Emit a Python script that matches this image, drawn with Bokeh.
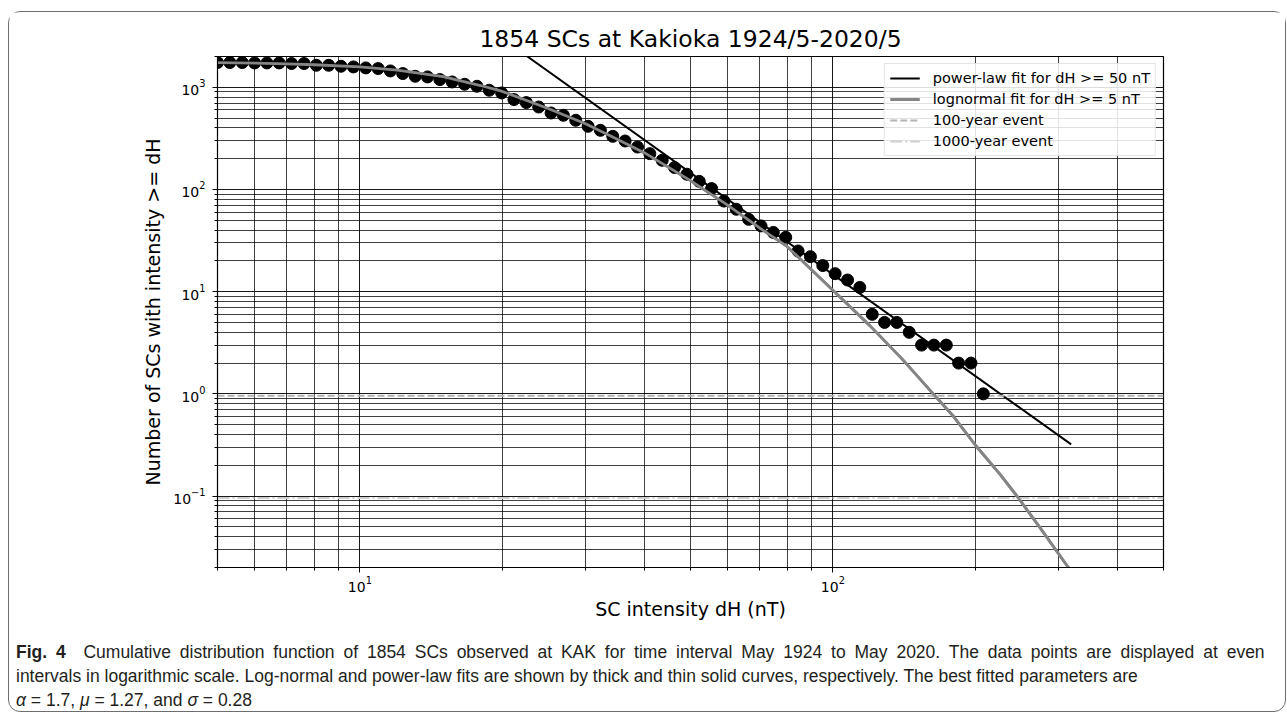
from bokeh.plotting import figure
from bokeh.layouts import column
from bokeh.models import FixedTicker, LogTickFormatter, Legend, LegendItem, Range1d, Div
from bokeh.embed import file_html
from bokeh.resources import INLINE

# ---------------- data ----------------
sc_intensity = [5.00, 5.31, 5.64, 5.99, 6.36, 6.75, 7.17, 7.62, 8.09, 8.59,
                9.12, 9.69, 10.29, 10.93, 11.60, 12.32, 13.09, 13.90, 14.76, 15.67,
                16.65, 17.68, 18.77, 19.94, 21.17, 22.48, 23.88, 25.36, 26.93, 28.60,
                30.37, 32.25, 34.25, 36.37, 38.63, 41.02, 43.56, 46.26, 49.13, 52.18,
                55.41, 58.84, 62.49, 66.36, 70.48, 74.84, 79.48, 84.41, 89.64, 95.20,
                101.1, 107.4, 114.0, 121.1, 128.6, 136.5, 145.0, 154.0, 163.5, 173.7,
                184.4, 195.9, 208.0]
sc_count = [1746, 1746, 1746, 1730, 1730, 1730, 1707, 1707, 1641, 1641,
            1606, 1582, 1546, 1524, 1445, 1361, 1281, 1262, 1189, 1127,
            1070, 1023, 935, 880, 758, 708, 641, 560, 532, 475,
            415, 379, 331, 298, 260, 224, 193, 164, 141, 120,
            102, 77, 64, 51, 44, 38, 34, 25, 22, 18,
            15, 13, 11, 6, 5, 5, 4, 3, 3, 3,
            2, 2, 1]

powerlaw_x = [22.6, 319.0]
powerlaw_y = [2000.0, 0.32]

lognormal_x = [5, 6, 7, 8, 10, 12, 15, 18, 20, 25, 30, 35, 40, 50, 60, 70, 80, 90,
               100, 120, 140, 163, 180, 200, 225, 245, 275, 310, 320]
lognormal_y = [1745, 1725, 1695, 1660, 1580, 1470, 1270, 1040, 910, 620, 440, 310, 228,
               122, 70, 42, 27.7, 16.5, 10.3, 4.6, 2.2, 1.0, 0.6, 0.316, 0.166, 0.1,
               0.048, 0.022, 0.018]

event_100_year = 0.96
event_1000_year = 0.096

x_limits = [5, 500]
y_limits = [0.02, 2000]
x_major_ticks = [10, 100]
x_minor_ticks = [5, 6, 7, 8, 9, 20, 30, 40, 50, 60, 70, 80, 90, 200, 300, 400, 500]
y_major_ticks = [0.1, 1, 10, 100, 1000]
y_minor_ticks = [0.02, 0.03, 0.04, 0.05, 0.06, 0.07, 0.08, 0.09,
                 0.2, 0.3, 0.4, 0.5, 0.6, 0.7, 0.8, 0.9,
                 2, 3, 4, 5, 6, 7, 8, 9,
                 20, 30, 40, 50, 60, 70, 80, 90,
                 200, 300, 400, 500, 600, 700, 800, 900, 2000]

title_text = "1854 SCs at Kakioka 1924/5-2020/5"
x_label = "SC intensity dH (nT)"
y_label = "Number of SCs with intensity >= dH"
legend_labels = ["power-law fit for dH >= 50 nT", "lognormal fit for dH >= 5 nT",
                 "100-year event", "1000-year event"]
caption_bold = "Fig. 4"
caption_lines = [
    "Cumulative distribution function of 1854 SCs observed at KAK for time interval May 1924 to May 2020. The data points are displayed at even",
    "intervals in logarithmic scale. Log-normal and power-law fits are shown by thick and thin solid curves, respectively. The best fitted parameters are",
    "\u03b1 = 1.7, \u03bc = 1.27, and \u03c3 = 0.28",
]

FONT = "DejaVu Sans"
W = 1276

# ---------------- main chart ----------------
p = figure(width=W, height=615, x_axis_type="log", y_axis_type="log",
           x_range=Range1d(*x_limits), y_range=Range1d(*y_limits),
           output_backend="svg", toolbar_location=None,
           min_border_left=208, min_border_right=122, min_border_top=44, min_border_bottom=60)

p.title.text = title_text
p.title.align = "center"
p.title.text_font = FONT
p.title.text_font_size = "23.5px"
p.title.text_font_style = "normal"
p.title.text_color = "black"
p.title.standoff = 8

p.outline_line_color = "black"
p.outline_line_width = 1.2

p.xaxis.axis_label = x_label
p.yaxis.axis_label = y_label
for ax, major, minor in ((p.xaxis[0], x_major_ticks, x_minor_ticks), (p.yaxis[0], y_major_ticks, y_minor_ticks)):
    ax.ticker = FixedTicker(ticks=major, minor_ticks=minor)
    ax.formatter = LogTickFormatter()
    ax.major_label_text_font = FONT
    ax.major_label_text_font_size = "14px"
    ax.major_label_text_color = "black"
    ax.axis_label_text_font = FONT
    ax.axis_label_text_font_size = "19px"
    ax.axis_label_text_font_style = "normal"
    ax.axis_label_text_color = "black"
    ax.axis_line_color = "black"
    ax.major_tick_out = 5
    ax.major_tick_in = 0
    ax.minor_tick_out = 3
    ax.minor_tick_in = 0
    ax.major_tick_line_color = "black"
    ax.minor_tick_line_color = "black"
p.xaxis.major_label_standoff = 3
p.yaxis.major_label_standoff = 7
p.xaxis.axis_label_standoff = 3
p.yaxis.axis_label_standoff = 6

for g in (p.xgrid[0], p.ygrid[0]):
    g.grid_line_color = "black"
    g.grid_line_width = 1
    g.grid_line_alpha = 0.9
    g.minor_grid_line_color = "black"
    g.minor_grid_line_width = 1
    g.minor_grid_line_alpha = 0.75

r_pl = p.line(powerlaw_x, powerlaw_y, line_color="black", line_width=2)
r_ln = p.line(lognormal_x, lognormal_y, line_color="#858585", line_width=2.8)
r_100 = p.line(x_limits, [event_100_year, event_100_year], line_color="#b4b4b4",
               line_width=2, line_dash="7 3")
r_1000 = p.line(x_limits, [event_1000_year, event_1000_year], line_color="#cfcfcf",
                line_width=2, line_dash="12 3 2 3")
p.scatter(sc_intensity, sc_count, size=12, fill_color="black", line_color="black")
p.line(lognormal_x, lognormal_y, line_color="#858585", line_width=2.8)

legend = Legend(items=[LegendItem(label=legend_labels[0], renderers=[r_pl]),
                       LegendItem(label=legend_labels[1], renderers=[r_ln]),
                       LegendItem(label=legend_labels[2], renderers=[r_100]),
                       LegendItem(label=legend_labels[3], renderers=[r_1000])],
                location="top_right", margin=7, padding=5, spacing=3,
                glyph_height=18, glyph_width=30, label_height=18, label_standoff=13,
                label_text_font=FONT, label_text_font_size="14.5px", label_text_color="black",
                border_line_color="#cccccc", border_line_width=1,
                background_fill_alpha=0.85)
p.add_layout(legend)

# ---------------- caption ----------------
line3 = caption_lines[2]
for g in ("\u03b1", "\u03bc", "\u03c3"):
    line3 = line3.replace(g, "<i>" + g + "</i>")
caption_html = (
    '<div style="font-family: \'Liberation Sans\', Arial, sans-serif; font-size: 17.5px; '
    'line-height: 24px; color: #231f20; padding: 13px 0 0 7px; white-space: nowrap;">'
    f'<span style="word-spacing: 4px;"><b>{caption_bold}</b>&nbsp; {caption_lines[0]}</span><br>'
    f'{caption_lines[1]}<br>{line3}</div>'
)
cap = Div(text=caption_html, width=W, height=84, margin=0)

layout = column(p, cap, spacing=0, margin=(11, 0, 0, 8),
                styles={"border": "1px solid #6e6e6e", "border-radius": "12px"})

open("out.html", "w").write(file_html(layout, INLINE))
